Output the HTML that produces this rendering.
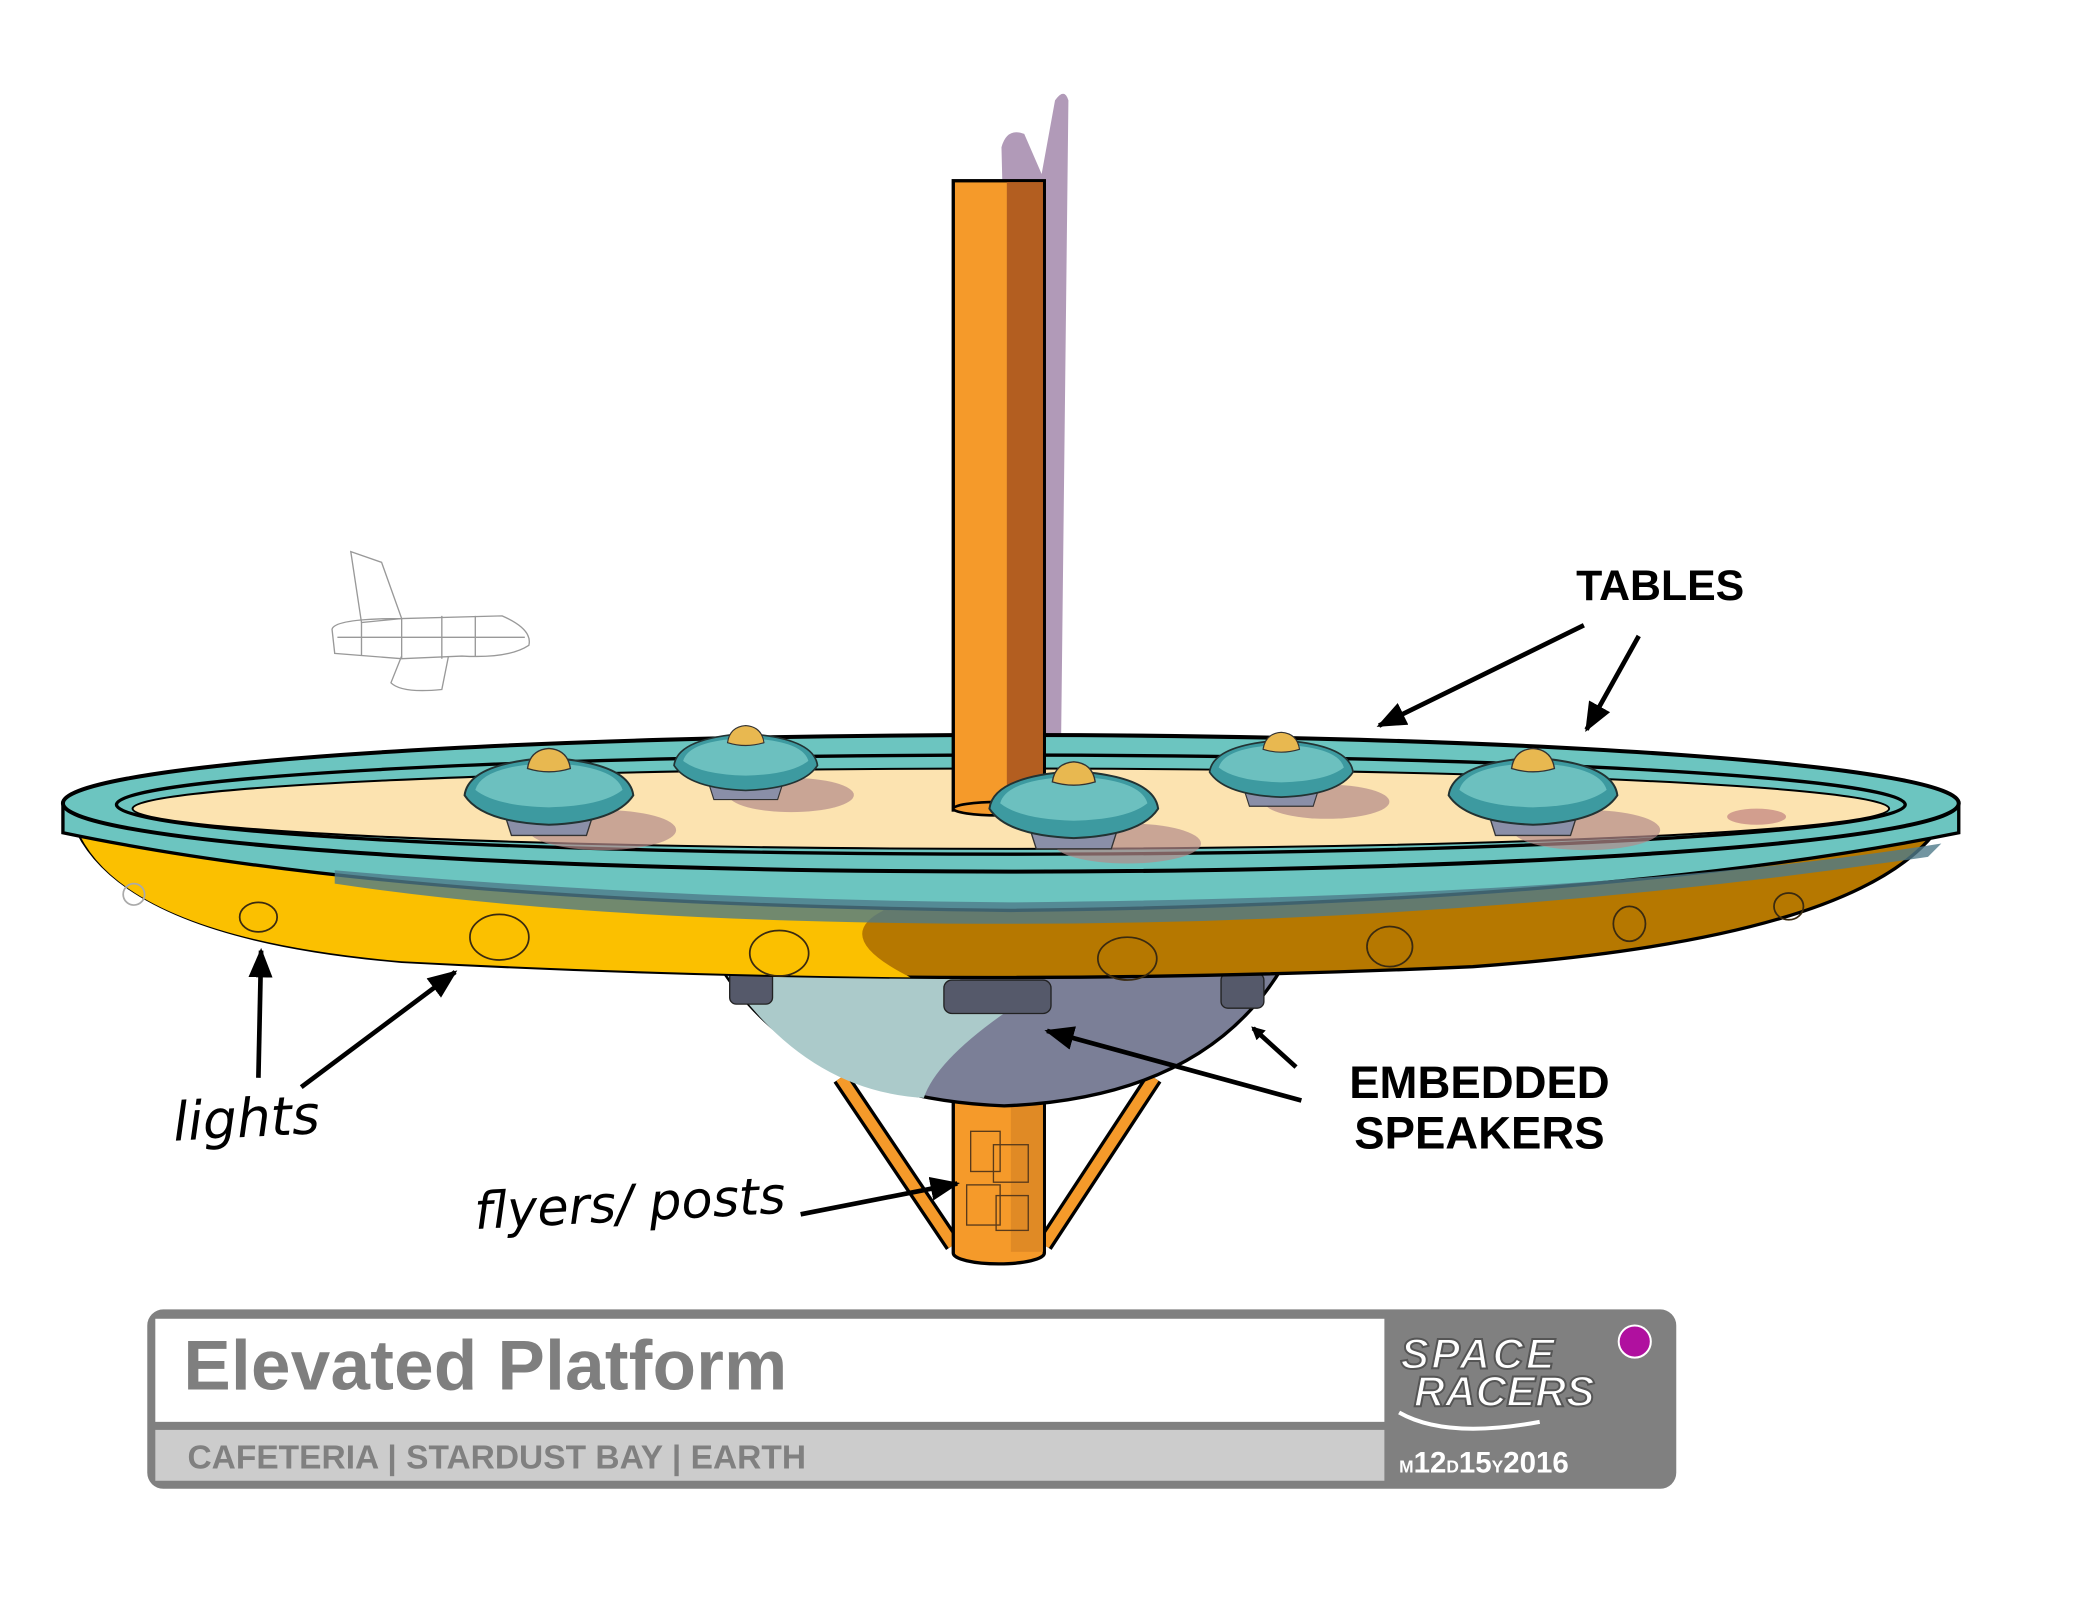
<!DOCTYPE html>
<html><head><meta charset="utf-8"><style>
html,body{margin:0;padding:0;background:#fff;}
svg{display:block}
</style></head><body>
<svg width="2098" height="1620" viewBox="0 0 1567 1210" preserveAspectRatio="none" xmlns="http://www.w3.org/2000/svg" font-family="Liberation Sans, sans-serif">
<defs>
<marker id="ah" markerWidth="10" markerHeight="10" refX="8" refY="5" orient="auto" markerUnits="userSpaceOnUse">
<path d="M0,0 L10,5 L0,10 z" fill="#000"/></marker>
<marker id="ah2" markerWidth="22" markerHeight="18" refX="20" refY="9" orient="auto" markerUnits="userSpaceOnUse">
<path d="M0,0 L22,9 L0,18 z" fill="#000"/></marker>
<g id="tb">
<ellipse cx="40" cy="28" rx="55" ry="15" fill="#b38a8a" opacity="0.7"/>
<path d="M-35,10 L-28,32 L28,32 L35,10Z" fill="#8a8fa8" stroke="#333"/>
<path d="M-63,2 Q-60,-22 0,-26 Q60,-22 63,2 Q50,22 0,24 Q-50,22 -63,2Z" fill="#3d9aa0" stroke="#233" stroke-width="1.5"/>
<path d="M-55,-2 Q-50,-20 0,-22 Q50,-20 55,-2 Q40,10 0,11 Q-40,10 -55,-2Z" fill="#6cc0bf"/>
<path d="M-16,-18 Q-14,-32 0,-33 Q14,-32 16,-18 Q0,-13 -16,-18Z" fill="#e8b850" stroke="#333"/>
</g>
</defs>
<rect width="1567" height="1210" fill="#fff"/>
<path d="M748,110 Q752,95 765,100 L778,130 L788,75 Q795,65 798,75 L792,600 L760,600 Z" fill="#a88fb0" opacity="0.9"/>
<line x1="628" y1="805" x2="712" y2="930" stroke="#000" stroke-width="13"/>
<line x1="628" y1="805" x2="712" y2="930" stroke="#f59a2a" stroke-width="8"/>
<line x1="862" y1="805" x2="780" y2="930" stroke="#000" stroke-width="13"/>
<line x1="862" y1="805" x2="780" y2="930" stroke="#f59a2a" stroke-width="8"/>
<path d="M712,815 L712,936 A34,8 0 0 0 780,936 L780,815 Z" fill="#f59a2a" stroke="#000" stroke-width="2.5"/>
<rect x="755" y="815" width="24" height="120" fill="#e08a25"/>
<g fill="none" stroke="#5a3a1a" stroke-width="1"><rect x="725" y="845" width="22" height="30"/><rect x="742" y="855" width="26" height="28"/><rect x="722" y="885" width="25" height="30"/><rect x="744" y="893" width="24" height="26"/></g>
<path d="M538,722 Q600,820 750,826 Q900,820 958,722 Z" fill="#7b7f97" stroke="#000" stroke-width="2.5"/>
<path d="M540,724 Q600,815 690,820 Q700,790 760,750 L700,724 Z" fill="#abcaca"/>
<g fill="#55596a" stroke="#222" stroke-width="1"><rect x="705" y="732" width="80" height="25" rx="6"/><rect x="545" y="725" width="32" height="25" rx="5"/><rect x="912" y="727" width="32" height="26" rx="5"/></g>
<path d="M55,615 Q90,700 300,718 Q700,740 1100,722 Q1400,700 1452,612 Z" fill="#b67800" stroke="#000" stroke-width="2.5"/>
<path d="M57,618 Q90,700 300,718 Q500,728 680,730 Q620,700 660,680 L500,640 Q300,630 57,618 Z" fill="#fbc000"/>
<g fill="none" stroke="#3a2a10" stroke-width="1.3">
<ellipse cx="193" cy="685" rx="14" ry="11"/><ellipse cx="373" cy="700" rx="22" ry="17"/><ellipse cx="582" cy="712" rx="22" ry="17"/><ellipse cx="842" cy="716" rx="22" ry="16"/><ellipse cx="1038" cy="707" rx="17" ry="15"/><ellipse cx="1217" cy="690" rx="12" ry="13"/><ellipse cx="1336" cy="677" rx="11" ry="10"/><ellipse cx="100" cy="668" rx="8" ry="8" stroke="#aaa"/></g>
<path d="M47,600 L47,622 Q300,675 755,680 Q1200,675 1463,622 L1463,600 Z" fill="#6cc5c0" stroke="#000" stroke-width="2.5"/>
<path d="M250,650 Q500,672 755,674 Q1200,670 1450,630 L1440,640 Q1100,690 755,690 Q450,690 250,660Z" fill="#4f7a8a" opacity="0.8"/>
<ellipse cx="755" cy="600" rx="708" ry="51" fill="#6cc5c0" stroke="#000" stroke-width="3"/>
<ellipse cx="755" cy="601" rx="668" ry="37" fill="none" stroke="#000" stroke-width="2.5"/>
<ellipse cx="755" cy="604" rx="656" ry="30" fill="#fce3b0" stroke="#000" stroke-width="1.5"/>
<rect x="712" y="135" width="68" height="470" fill="#f59a2a" stroke="#000" stroke-width="2.5"/>
<rect x="752" y="136" width="27" height="468" fill="#b35e20"/>
<ellipse cx="746" cy="604" rx="34" ry="5" fill="#f59a2a" stroke="#000" stroke-width="2"/>
<use href="#tb" transform="translate(410,592)"/>
<use href="#tb" transform="translate(557,570) scale(0.85)"/>
<use href="#tb" transform="translate(802,602)"/>
<use href="#tb" transform="translate(957,575) scale(0.85)"/>
<use href="#tb" transform="translate(1145,592)"/>
<ellipse cx="1312" cy="610" rx="22" ry="6" fill="#c08080" opacity="0.7"/>
<g fill="none" stroke="#999" stroke-width="1">
<path d="M262,412 L270,465 L300,462 L285,420 Z"/>
<path d="M248,470 Q250,462 300,462 L375,460 Q398,470 395,482 Q380,492 345,490 L300,492 L250,488 Z"/>
<path d="M300,490 L292,510 Q300,518 330,515 L335,490"/>
<path d="M252,476 L392,476 M270,465 L270,490 M300,462 L300,492 M330,460 L330,492 M355,460 L355,490"/>
</g>
<g stroke="#000" stroke-width="3.5" fill="none">
<line x1="1183" y1="467" x2="1030" y2="542" marker-end="url(#ah2)"/>
<line x1="1224" y1="475" x2="1185" y2="545" marker-end="url(#ah2)"/>
<line x1="972" y1="822" x2="782" y2="770" marker-end="url(#ah2)"/>
<line x1="968" y1="797" x2="936" y2="768" marker-end="url(#ah)"/>
<line x1="193" y1="805" x2="195" y2="710" marker-end="url(#ah2)"/>
<line x1="225" y1="812" x2="340" y2="726" marker-end="url(#ah2)"/>
<line x1="598" y1="907" x2="715" y2="884" marker-end="url(#ah2)"/>
</g>
<text x="1240" y="448" font-size="32" font-weight="bold" text-anchor="middle">TABLES</text>
<text x="1105" y="820" font-size="34" font-weight="bold" text-anchor="middle">EMBEDDED</text>
<text x="1105" y="858" font-size="34" font-weight="bold" text-anchor="middle">SPEAKERS</text>
<text x="130" y="852" font-size="40" font-family="DejaVu Sans, sans-serif" font-style="italic" transform="rotate(-3 130 852)">lights</text>
<text x="355" y="918" font-size="38" font-family="DejaVu Sans, sans-serif" font-style="italic" transform="rotate(-3 355 918)">flyers/ posts</text>
<rect x="110" y="978" width="1142" height="134" rx="12" fill="#808080"/>
<rect x="116" y="985" width="918" height="77" fill="#fff"/>
<rect x="116" y="1068" width="918" height="38" fill="#cccccc"/>
<text x="137" y="1038" font-size="53" font-weight="bold" fill="#7f7f7f" textLength="451">Elevated Platform</text>
<text x="140" y="1097" font-size="25" font-weight="bold" fill="#808080" textLength="462">CAFETERIA | STARDUST BAY | EARTH</text>
<text x="1046" y="1022" font-size="32" font-weight="bold" font-style="italic" fill="#fff" stroke="#555" stroke-width="1.5" textLength="115">SPACE</text>
<text x="1056" y="1050" font-size="32" font-weight="bold" font-style="italic" fill="#fff" stroke="#555" stroke-width="1.5" textLength="135">RACERS</text>
<path d="M1045,1055 Q1080,1075 1150,1062" stroke="#fff" stroke-width="3" fill="none"/>
<circle cx="1221" cy="1002" r="12" fill="#b0109f" stroke="#fff" stroke-width="1.5"/>
<text x="1045" y="1100" font-weight="bold" fill="#fff"><tspan font-size="13">M</tspan><tspan font-size="22">12</tspan><tspan font-size="13">D</tspan><tspan font-size="22">15</tspan><tspan font-size="13">Y</tspan><tspan font-size="22">2016</tspan></text>
</svg>
</body></html>
